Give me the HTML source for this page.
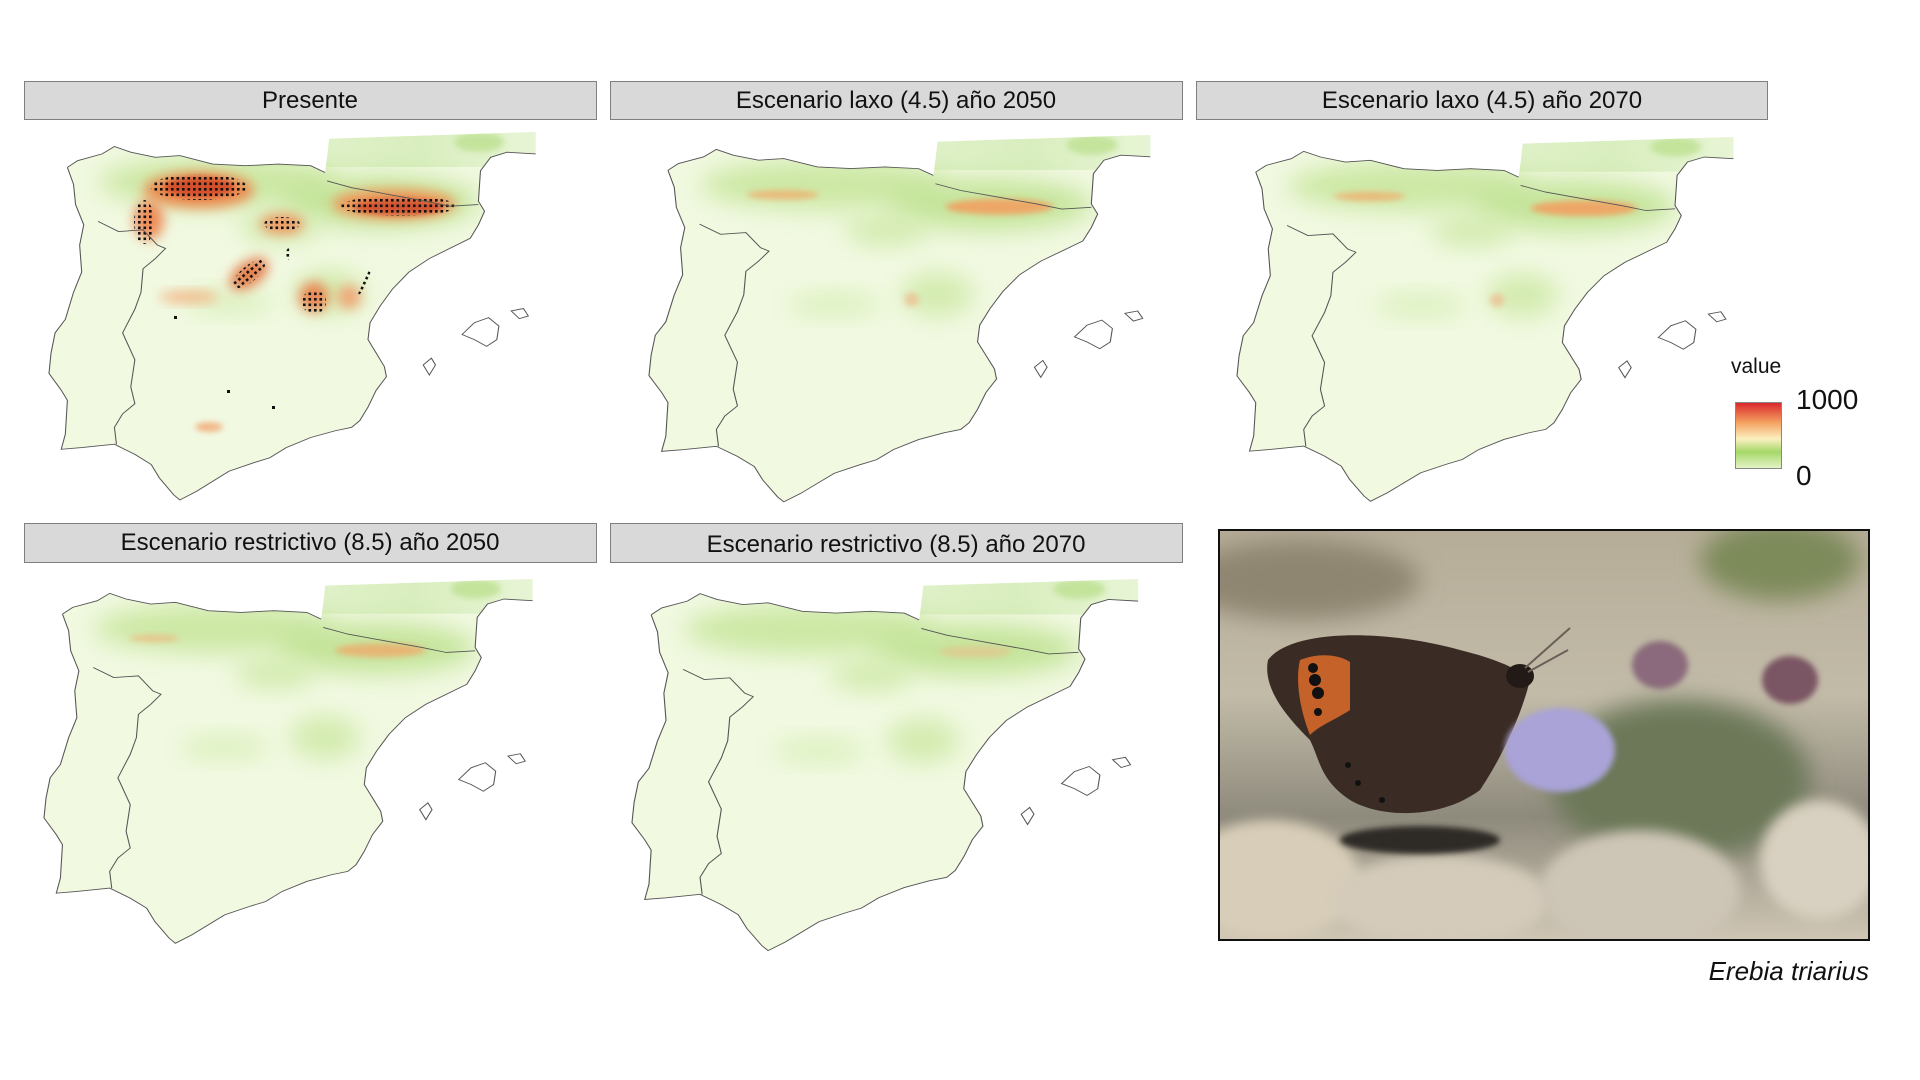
<!DOCTYPE html>
<html><head><meta charset="utf-8"><style>
html,body{margin:0;padding:0;background:#fff;}
svg{display:block;}
</style></head><body>
<svg width="1920" height="1080" viewBox="0 0 1920 1080" xmlns="http://www.w3.org/2000/svg">
<defs>
  <filter id="bl" x="-50%" y="-50%" width="200%" height="200%"><feGaussianBlur stdDeviation="6"/></filter>
  <filter id="bl2" x="-50%" y="-50%" width="200%" height="200%"><feGaussianBlur stdDeviation="3"/></filter>
  <filter id="bl3" x="-50%" y="-50%" width="200%" height="200%"><feGaussianBlur stdDeviation="12"/></filter>
  <linearGradient id="fr" x1="0" y1="0" x2="1" y2="0">
    <stop offset="0" stop-color="#e4f3cf"/><stop offset="0.6" stop-color="#d9eebf"/><stop offset="1" stop-color="#e8f5d6"/>
  </linearGradient>
  <path id="shape" transform="matrix(0.409,0,0,0.3376,-49.1,-76)" d="M165,330 L190,310 L250,290 L280,268 L320,285 L380,300 L440,295 L520,320 L600,325 L680,320 L760,325 L795,345 L800,300 L805,245 L1310,225 L1310,290 L1240,285 L1200,300 L1175,340 L1170,430 L1185,460 L1170,500 L1150,540 L1100,570 L1050,600 L1000,640 L960,690 L930,740 L905,790 L900,840 L920,880 L940,920 L945,950 L920,990 L900,1040 L880,1080 L860,1100 L820,1110 L760,1130 L700,1160 L660,1190 L620,1205 L560,1230 L520,1260 L480,1290 L440,1315 L425,1300 L390,1250 L370,1210 L330,1180 L280,1150 L200,1160 L150,1165 L160,1120 L165,1020 L150,990 L120,940 L125,880 L135,820 L160,780 L180,700 L200,640 L195,560 L205,500 L185,440 L180,380 Z"/>
  <clipPath id="cp"><path transform="matrix(0.409,0,0,0.3376,-49.1,-76)" d="M165,330 L190,310 L250,290 L280,268 L320,285 L380,300 L440,295 L520,320 L600,325 L680,320 L760,325 L795,345 L800,300 L805,245 L1310,225 L1310,290 L1240,285 L1200,300 L1175,340 L1170,430 L1185,460 L1170,500 L1150,540 L1100,570 L1050,600 L1000,640 L960,690 L930,740 L905,790 L900,840 L920,880 L940,920 L945,950 L920,990 L900,1040 L880,1080 L860,1100 L820,1110 L760,1130 L700,1160 L660,1190 L620,1205 L560,1230 L520,1260 L480,1290 L440,1315 L425,1300 L390,1250 L370,1210 L330,1180 L280,1150 L200,1160 L150,1165 L160,1120 L165,1020 L150,990 L120,940 L125,880 L135,820 L160,780 L180,700 L200,640 L195,560 L205,500 L185,440 L180,380 Z"/></clipPath>
  <g id="lines">
    <g transform="matrix(0.409,0,0,0.3376,-49.1,-76)" fill="none" stroke="#555" stroke-width="2.6">
      <path d="M165,330 L190,310 L250,290 L280,268 L320,285 L380,300 L440,295 L520,320 L600,325 L680,320 L760,325 L795,345 M1310,290 L1240,285 L1200,300 L1175,340 L1170,430 L1185,460 L1170,500 L1150,540 L1100,570 L1050,600 L1000,640 L960,690 L930,740 L905,790 L900,840 L920,880 L940,920 L945,950 L920,990 L900,1040 L880,1080 L860,1100 L820,1110 L760,1130 L700,1160 L660,1190 L620,1205 L560,1230 L520,1260 L480,1290 L440,1315 L425,1300 L390,1250 L370,1210 L330,1180 L280,1150 L200,1160 L150,1165 L160,1120 L165,1020 L150,990 L120,940 L125,880 L135,820 L160,780 L180,700 L200,640 L195,560 L205,500 L185,440 L180,380 L165,330"/>
      <path d="M240,490 L290,520 L350,515 L385,560 L405,570 L380,600 L350,630 L345,700 L330,750 L300,820 L330,900 L320,980 L330,1030 L300,1060 L280,1100 L285,1150"/>
      <path d="M800,370 L860,390 L950,410 L1040,430 L1100,445 L1170,440"/>
      <path d="M1130,825 L1160,790 L1195,775 L1220,800 L1215,840 L1190,860 L1160,840 Z"/>
      <path d="M1250,755 L1280,748 L1292,770 L1270,778 Z"/>
      <path d="M1035,915 L1055,895 L1065,915 L1050,945 Z"/>
    </g>
  </g>
  <pattern id="dots" width="5.5" height="5.5" patternUnits="userSpaceOnUse">
    <rect x="1" y="1" width="2.6" height="2.6" fill="#111"/>
  </pattern>
  <g id="mapBase">
    <use href="#shape" fill="#f1f9e1"/>
    <g clip-path="url(#cp)">
      <rect x="190" y="0" width="300" height="35" fill="url(#fr)"/>
      <ellipse cx="430" cy="10" rx="25" ry="10" fill="#c4e49c" filter="url(#bl2)"/>
      <ellipse cx="170" cy="50" rx="120" ry="25" fill="#c6e59a" filter="url(#bl3)" opacity="0.85"/>
      <ellipse cx="330" cy="70" rx="100" ry="26" fill="#bde18f" filter="url(#bl3)" opacity="0.85"/>
      <ellipse cx="230" cy="95" rx="40" ry="16" fill="#d3ebaf" filter="url(#bl3)"/>
      <ellipse cx="280" cy="160" rx="35" ry="22" fill="#d3ebaf" filter="url(#bl3)"/>
      <ellipse cx="180" cy="170" rx="45" ry="12" fill="#dbf0bd" filter="url(#bl3)"/>
    </g>
  </g>
  <g id="hot45">
    <g clip-path="url(#cp)">
      <ellipse cx="340" cy="72" rx="52" ry="8" fill="#f2a060" filter="url(#bl2)" opacity="0.9"/>
      <ellipse cx="130" cy="60" rx="35" ry="5" fill="#f2a868" filter="url(#bl2)" opacity="0.7"/>
      <ellipse cx="255" cy="165" rx="7" ry="7" fill="#f0b080" filter="url(#bl2)" opacity="0.6"/>
    </g>
  </g>
  <g id="hot85">
    <g clip-path="url(#cp)">
      <ellipse cx="335" cy="72" rx="45" ry="7" fill="#f2a668" filter="url(#bl2)" opacity="0.75"/>
      <ellipse cx="110" cy="60" rx="25" ry="4" fill="#f2b078" filter="url(#bl2)" opacity="0.6"/>
    </g>
  </g>
  <g id="hot85b">
    <g clip-path="url(#cp)">
      <ellipse cx="330" cy="72" rx="35" ry="6" fill="#f0b888" filter="url(#bl2)" opacity="0.5"/>
    </g>
  </g>
</defs>

<g font-family="'Liberation Sans', sans-serif" font-size="24" fill="#111" text-anchor="middle">
  <rect x="24.5" y="81.5" width="572" height="38" fill="#d9d9d9" stroke="#7f7f7f"/>
  <text x="310" y="108">Presente</text>
  <rect x="610.5" y="81.5" width="572" height="38" fill="#d9d9d9" stroke="#7f7f7f"/>
  <text x="896" y="108">Escenario laxo (4.5) año 2050</text>
  <rect x="1196.5" y="81.5" width="571" height="38" fill="#d9d9d9" stroke="#7f7f7f"/>
  <text x="1482" y="108">Escenario laxo (4.5) año 2070</text>
  <rect x="24.5" y="523.5" width="572" height="39" fill="#d9d9d9" stroke="#7f7f7f"/>
  <text x="310" y="550">Escenario restrictivo (8.5) año 2050</text>
  <rect x="610.5" y="523.5" width="572" height="39" fill="#d9d9d9" stroke="#7f7f7f"/>
  <text x="896" y="552">Escenario restrictivo (8.5) año 2070</text>
</g>

<g transform="translate(49,132)">
  <use href="#mapBase"/>
  <g clip-path="url(#cp)">
    <ellipse cx="150" cy="58" rx="55" ry="18" fill="#ec8a50" filter="url(#bl)"/>
    <ellipse cx="150" cy="55" rx="35" ry="10" fill="#d5502c" filter="url(#bl2)"/>
    <ellipse cx="345" cy="72" rx="62" ry="15" fill="#ef9658" filter="url(#bl)"/>
    <ellipse cx="350" cy="75" rx="45" ry="8" fill="#d25530" filter="url(#bl2)"/>
    <ellipse cx="100" cy="88" rx="15" ry="20" fill="#ec8c58" filter="url(#bl)"/>
    <ellipse cx="233" cy="92" rx="22" ry="10" fill="#ee9860" filter="url(#bl)"/>
    <ellipse cx="200" cy="142" rx="22" ry="12" fill="#e47e4c" filter="url(#bl)" transform="rotate(-35 200 142)"/>
    <ellipse cx="265" cy="165" rx="15" ry="15" fill="#ea8854" filter="url(#bl)"/>
    <ellipse cx="300" cy="165" rx="12" ry="12" fill="#f0a878" filter="url(#bl)"/>
    <ellipse cx="140" cy="165" rx="30" ry="6" fill="#f2b888" filter="url(#bl)"/>
    <ellipse cx="160" cy="295" rx="14" ry="5" fill="#f2b888" filter="url(#bl2)"/>
    <ellipse cx="150" cy="55" rx="48" ry="13" fill="url(#dots)"/>
    <ellipse cx="95" cy="90" rx="10" ry="22" fill="url(#dots)"/>
    <ellipse cx="350" cy="74" rx="58" ry="10" fill="url(#dots)"/>
    <ellipse cx="233" cy="92" rx="18" ry="7" fill="url(#dots)"/>
    <ellipse cx="200" cy="142" rx="20" ry="8" fill="url(#dots)" transform="rotate(-40 200 142)"/>
    <ellipse cx="265" cy="170" rx="12" ry="12" fill="url(#dots)"/>
    <ellipse cx="315" cy="150" rx="3" ry="14" fill="url(#dots)" transform="rotate(25 315 150)"/>
    <ellipse cx="240" cy="122" rx="3" ry="6" fill="url(#dots)"/>
  </g>
  <rect x="178" y="258" width="3" height="3" fill="#111"/>
  <rect x="223" y="274" width="3" height="3" fill="#111"/>
  <rect x="125" y="184" width="3" height="3" fill="#111"/>
  <use href="#lines"/>
</g>

<g transform="translate(649,135) scale(1.03,0.997)">
  <use href="#mapBase"/><use href="#hot45"/><use href="#lines"/>
</g>
<g transform="translate(1237,137) scale(1.02,0.99)">
  <use href="#mapBase"/><use href="#hot45"/><use href="#lines"/>
</g>
<g transform="translate(44,579) scale(1.004,0.99)">
  <use href="#mapBase"/><use href="#hot85"/><use href="#lines"/>
</g>
<g transform="translate(632,579) scale(1.04,1.01)">
  <use href="#mapBase"/><use href="#hot85b"/><use href="#lines"/>
</g>

<defs>
  <linearGradient id="leg" x1="0" y1="0" x2="0" y2="1">
    <stop offset="0" stop-color="#d9262a"/>
    <stop offset="0.3" stop-color="#f4a060"/>
    <stop offset="0.55" stop-color="#fbf0c0"/>
    <stop offset="0.75" stop-color="#a6d86a"/>
    <stop offset="1" stop-color="#e6f4c8"/>
  </linearGradient>
</defs>
<text x="1731" y="373" font-family="'Liberation Sans', sans-serif" font-size="21" fill="#111">value</text>
<rect x="1735.5" y="402.5" width="46" height="66" fill="url(#leg)" stroke="#888"/>
<text x="1796" y="409" font-family="'Liberation Sans', sans-serif" font-size="28" fill="#111">1000</text>
<text x="1796" y="485" font-family="'Liberation Sans', sans-serif" font-size="28" fill="#111">0</text>

<defs>
  <clipPath id="ph"><rect x="1219" y="530" width="650" height="410"/></clipPath>
  <linearGradient id="bg" x1="0" y1="0" x2="0" y2="1">
    <stop offset="0" stop-color="#b6ad98"/><stop offset="0.4" stop-color="#c2bba8"/>
    <stop offset="0.7" stop-color="#8e8a7c"/><stop offset="1" stop-color="#cfc6b4"/>
  </linearGradient>
</defs>
<g clip-path="url(#ph)">
  <rect x="1219" y="530" width="650" height="410" fill="url(#bg)"/>
  <ellipse cx="1780" cy="560" rx="80" ry="40" fill="#7d8a5a" filter="url(#bl3)"/>
  <ellipse cx="1300" cy="580" rx="120" ry="40" fill="#8f8672" filter="url(#bl3)"/>
  <ellipse cx="1680" cy="780" rx="130" ry="80" fill="#6c7858" filter="url(#bl3)"/>
  <ellipse cx="1270" cy="880" rx="90" ry="60" fill="#d8cdb8" filter="url(#bl)"/>
  <ellipse cx="1440" cy="900" rx="110" ry="45" fill="#d4cbba" filter="url(#bl)"/>
  <ellipse cx="1640" cy="890" rx="100" ry="60" fill="#cdc5b6" filter="url(#bl)"/>
  <ellipse cx="1820" cy="860" rx="60" ry="60" fill="#d8d0c0" filter="url(#bl)"/>
  <ellipse cx="1420" cy="840" rx="80" ry="14" fill="#2e2a26" filter="url(#bl2)"/>
  <path d="M1268,660 C1290,630 1380,628 1460,650 C1500,660 1520,670 1530,680 C1520,720 1500,760 1480,790 C1440,820 1380,818 1350,800 C1320,780 1320,760 1310,740 C1290,720 1262,690 1268,660 Z" fill="#3a2c24"/>
  <path d="M1300,660 C1320,652 1340,655 1350,662 L1350,710 C1335,720 1320,725 1310,735 C1300,710 1295,680 1300,660 Z" fill="#c5622a"/>
  <circle cx="1313" cy="668" r="5" fill="#111"/><circle cx="1315" cy="680" r="6" fill="#111"/><circle cx="1318" cy="693" r="6" fill="#111"/><circle cx="1318" cy="712" r="4" fill="#111"/>
  <circle cx="1348" cy="765" r="3" fill="#111"/><circle cx="1358" cy="783" r="3" fill="#111"/><circle cx="1382" cy="800" r="3" fill="#111"/>
  <ellipse cx="1520" cy="676" rx="14" ry="12" fill="#221a16"/>
  <path d="M1525,668 L1570,628 M1528,672 L1568,650" stroke="#6a6058" stroke-width="2"/>
  <ellipse cx="1560" cy="750" rx="55" ry="42" fill="#a9a3d8" filter="url(#bl2)"/>
  <ellipse cx="1660" cy="665" rx="28" ry="24" fill="#8a6a7c" filter="url(#bl2)"/>
  <ellipse cx="1790" cy="680" rx="28" ry="24" fill="#7a5464" filter="url(#bl2)"/>
</g>
<rect x="1219" y="530" width="650" height="410" fill="none" stroke="#111" stroke-width="2"/>
<text x="1869" y="980" text-anchor="end" font-family="'Liberation Sans', sans-serif" font-style="italic" font-size="26" fill="#111">Erebia triarius</text>
</svg>
</body></html>
